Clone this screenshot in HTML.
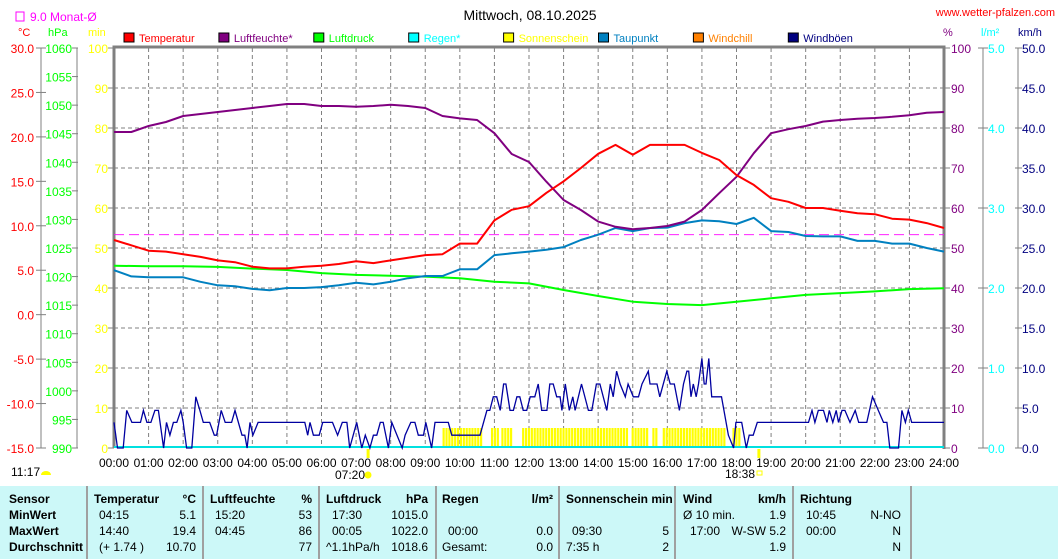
<!DOCTYPE html>
<html><head><meta charset="utf-8"><style>
body{margin:0;background:#fff;width:1058px;height:559px;overflow:hidden;font-family:"Liberation Sans",sans-serif}
svg{display:block}
text{font-family:"Liberation Sans",sans-serif;font-size:12px}
.b{font-weight:bold}
</style></head><body>
<svg id="chart" width="1058" height="559">
<rect x="0" y="486" width="1058" height="73" fill="#ccf8f8"/>
<g id="grid"></g>
<g id="axes"></g>
<g id="series"></g>
<g id="hdr">
<text x="530" y="20" text-anchor="middle" font-size="14" style="font-size:14px">Mittwoch, 08.10.2025</text>
<text x="1055" y="16" text-anchor="end" fill="#ff0000" style="font-size:11px">www.wetter-pfalzen.com</text>
<rect x="16" y="12" width="8" height="9" fill="none" stroke="#ff00ff"/>
<text x="30" y="21" fill="#ff00ff">9.0 Monat-Ø</text>
<text x="18" y="36" fill="#ff0000" style="font-size:11px">°C</text>
<text x="48" y="36" fill="#00ff00" style="font-size:11px">hPa</text>
<text x="88" y="36" fill="#ffff00" style="font-size:11px">min</text>
<text x="943" y="36" fill="#800080" style="font-size:11px">%</text>
<text x="981" y="36" fill="#00ffff" style="font-size:11px">l/m²</text>
<text x="1018" y="36" fill="#000080" style="font-size:11px">km/h</text>
</g>
<g id="legend"></g>
<g id="table"></g>
</svg>
<script>
// ---- data ----
const tempHalfHour = [8.4,7.8,7.2,7.1,6.8,6.5,6.1,5.9,5.4,5.2,5.2,5.4,5.5,5.7,6.0,5.8,6.1,6.4,6.7,6.8,8.0,8.0,10.6,11.8,12.2,13.7,15.0,16.5,18.1,19.1,18.0,19.1,19.1,19.1,18.2,17.4,15.7,14.6,13.1,12.7,12.0,12.0,11.7,11.4,11.3,10.8,10.7,10.3,9.75];
const humHalfHour = [79,79,80.5,81.5,83,83.5,84,84.5,85,85.5,86,86,85.5,85.5,85.3,85.5,85.8,85.5,85,83,82.4,82,78.7,73.5,71.5,66.6,62,59.5,56.6,55.3,54.7,55,55.5,56.6,59.5,63.7,67.8,73.7,78.7,79.7,80.5,81.6,82,82.3,82.5,82.8,83.2,83.8,84];
const dewHalfHour = [5.0,4.3,4.2,4.2,4.2,3.7,3.3,3.2,2.9,2.75,3.0,3.0,3.1,3.3,3.6,3.4,3.7,4.1,4.35,4.35,5.1,5.1,6.7,6.9,7.1,7.3,7.6,8.4,9.0,9.75,9.4,9.75,9.8,10.3,10.6,10.5,10.2,10.9,9.4,9.3,8.85,8.8,8.8,8.3,8.3,8.0,8.0,7.5,7.1];
const pressHourly = [1021.9,1021.8,1021.8,1021.7,1021.4,1021.15,1020.6,1020.3,1020.15,1020.0,1019.7,1019.1,1018.8,1017.65,1016.6,1015.6,1015.2,1015.0,1015.6,1016.2,1016.8,1017.1,1017.4,1017.8,1017.95];
const windMinutes = [0,6,16,22,31,46,51,57,64,71,77,86,91,97,103,109,116,120,126,135,142,149,155,166,174,178,186,193,204,210,222,227,231,236,241,250,331,336,340,346,356,362,379,388,396,404,409,421,430,436,444,450,456,462,467,476,482,491,500,505,515,522,528,537,541,551,557,580,586,635,647,652,658,664,670,676,680,687,693,699,704,710,716,722,730,736,742,751,756,762,768,774,777,783,790,796,800,811,823,829,837,843,855,861,866,872,878,887,892,901,910,916,927,930,942,947,959,965,972,981,988,994,997,1001,1005,1010,1014,1020,1024,1027,1032,1037,1054,1066,1075,1079,1089,1097,1102,1109,1116,1205,1211,1216,1222,1231,1237,1241,1247,1253,1257,1263,1268,1277,1286,1292,1306,1316,1326,1335,1341,1346,1361,1367,1373,1378,1384,1440];
const windValues = [3.2,0,0,4.7,3.2,3.2,4.7,3.2,3.2,4.7,4.7,0,3.2,1.6,3.2,3.2,4.7,3.2,0,0,6.4,4.7,3.2,3.2,1.6,1.6,4.7,3.2,3.2,4.7,1.6,1.6,0,3.2,1.6,3.2,3.2,1.6,3.2,1.6,1.6,3.2,3.2,1.6,3.2,3.2,0,3.2,0,1.6,0,1.6,1.6,3.2,3.2,0,3.2,1.6,0,1.6,3.2,3.2,1.6,1.6,3.2,0,3.2,3.2,1.6,1.6,4.7,4.7,6.4,6.4,4.7,8,8,4.7,4.7,6.4,6.4,4.7,4.7,6.4,6.4,8,4.7,4.7,8,8,6.4,6.4,4.7,8,4.7,6.4,4.7,8,4.7,4.7,8,8,4.7,8,6.4,9.6,8,6.4,8,6.4,6.4,8,9.6,8,8,6.4,9.6,8,8,4.7,8,9.6,9.6,6.4,8,6.4,8,11.2,8,8,11.2,6.4,6.4,1.6,0,3.2,3.2,0,1.6,1.6,3.2,3.2,4.7,3.2,4.7,4.7,3.2,4.7,3.2,4.7,3.2,4.7,4.7,3.2,4.7,3.2,3.2,6.4,4.7,3.2,3.2,0,0,4.7,3.2,4.7,3.2,3.2];
const sunSegStart = [570,654,672,708,898,934,952,1073];
const sunSegEnd = [636,668,692,892,927,942,1062,1086];
const sunSegValue = [5,5,5,5,5,5,5,5];
const monthAvgTemp = 9.0;
const hourLabels = ["00:00","01:00","02:00","03:00","04:00","05:00","06:00","07:00","08:00","09:00","10:00","11:00","12:00","13:00","14:00","15:00","16:00","17:00","18:00","19:00","20:00","21:00","22:00","23:00","24:00"];
const tempTicks = ["30.0","25.0","20.0","15.0","10.0","5.0","0.0","-5.0","-10.0","-15.0"];
const pressTicks = ["1060","1055","1050","1045","1040","1035","1030","1025","1020","1015","1010","1005","1000","995","990"];
const pctTicks = ["100","90","80","70","60","50","40","30","20","10","0"];
const rainTicks = ["5.0","4.0","3.0","2.0","1.0","0.0"];
const windTicks = ["50.0","45.0","40.0","35.0","30.0","25.0","20.0","15.0","10.0","5.0","0.0"];
// ---- scales ----
const X0=114,X1=944,Y0=448,Y1=48;
const xH=h=>X0+(X1-X0)*h/24;
const yPct=v=>Y0-(Y0-Y1)*v/100;
const yT=t=>Y0-(Y0-Y1)*(t+15)/45;
const yP=p=>Y0-(Y0-Y1)*(p-990)/70;
const yW=w=>Y0-(Y0-Y1)*w/50;
const NS="http://www.w3.org/2000/svg";
function mk(tag,attrs,parent,txt){const e=document.createElementNS(NS,tag);for(const k in attrs)e.setAttribute(k,attrs[k]);if(txt!=null)e.textContent=txt;parent.appendChild(e);return e;}
const G=document.getElementById('grid'),A=document.getElementById('axes'),S=document.getElementById('series'),L=document.getElementById('legend'),T=document.getElementById('table');
// grid
for(let h=1;h<24;h++){const l=mk('line',{x1:xH(h),x2:xH(h),y1:Y1,y2:Y0,stroke:'#808080','stroke-dasharray':'4,3'},G);

}
for(let v=10;v<100;v+=10){const l=mk('line',{x1:X0,x2:X1,y1:yPct(v),y2:yPct(v),stroke:'#808080','stroke-dasharray':'4,3'},G);

}
// plot frame
let f=mk('path',{d:`M${X0},${Y0} V${Y1-1} H${X1} V${Y0+1}`,fill:'none',stroke:'#808080','stroke-width':3},A);


// left axes
mk('line',{x1:41,x2:41,y1:Y1,y2:Y0,stroke:'#808080'},A);
mk('line',{x1:77,x2:77,y1:Y1,y2:Y0,stroke:'#808080'},A);
tempTicks.forEach((t,i)=>{const y=Y1+i*(Y0-Y1)/(tempTicks.length-1);mk('line',{x1:36,x2:46,y1:y,y2:y,stroke:'#808080'},A);
const e=mk('text',{x:34,y:y+5,'text-anchor':'end',fill:'#ff0000'},A,t);

});
pressTicks.forEach((t,i)=>{const y=Y1+i*(Y0-Y1)/(pressTicks.length-1);mk('line',{x1:72,x2:78,y1:y,y2:y,stroke:'#808080'},A);
const e=mk('text',{x:72,y:y+5,'text-anchor':'end',fill:'#00ff00'},A,t);

});
pctTicks.forEach((t,i)=>{const y=Y1+i*(Y0-Y1)/(pctTicks.length-1);mk('line',{x1:108,x2:114,y1:y,y2:y,stroke:'#808080'},A);
const e=mk('text',{x:108,y:y+5,'text-anchor':'end',fill:'#ffff00'},A,t);


mk('line',{x1:944,x2:950,y1:y,y2:y,stroke:'#808080'},A);
const r=mk('text',{x:951,y:y+5,fill:'#800080'},A,t);

});
mk('line',{x1:983,x2:983,y1:Y1,y2:Y0,stroke:'#808080'},A);
rainTicks.forEach((t,i)=>{const y=Y1+i*(Y0-Y1)/(rainTicks.length-1);mk('line',{x1:978,x2:988,y1:y,y2:y,stroke:'#808080'},A);
const e=mk('text',{x:988,y:y+5,fill:'#00ffff'},A,t);

});
mk('line',{x1:1018,x2:1018,y1:Y1,y2:Y0,stroke:'#808080'},A);
windTicks.forEach((t,i)=>{const y=Y1+i*(Y0-Y1)/(windTicks.length-1);mk('line',{x1:1015,x2:1022,y1:y,y2:y,stroke:'#808080'},A);
const e=mk('text',{x:1022,y:y+5,fill:'#000080'},A,t);

});
hourLabels.forEach((t,i)=>{const e=mk('text',{x:xH(i),y:467,'text-anchor':'middle'},A,t);

});
// sunshine bars
sunSegStart.forEach((s,i)=>{for(let m=s;m<sunSegEnd[i];m+=5){const x=xH(m/60);const b=mk('rect',{x:x,y:yPct(sunSegValue[i]),width:2.2,height:Y0-yPct(sunSegValue[i]),fill:'#ffff00'},S);

}});
// rain line
let rl=mk('line',{x1:X0,x2:X1,y1:447,y2:447,stroke:'#00e0e0','stroke-width':2},S);


// monthly average
let ma=mk('line',{x1:X0,x2:X1,y1:yT(monthAvgTemp),y2:yT(monthAvgTemp),stroke:'#ff00ff','stroke-dasharray':'10,5','stroke-width':0.8},S);


function poly(vals,stepH,yf,col,w,name){const pts=vals.map((v,i)=>xH(i*stepH).toFixed(1)+','+yf(v).toFixed(1)).join(' ');
const p=mk('polyline',{points:pts,fill:'none',stroke:col,'stroke-width':w,'stroke-linejoin':'round'},S);

}
poly(pressHourly,1,yP,'#00ff00',2,'pressure-series');
poly(dewHalfHour,0.5,yT,'#0080c0',2,'dewpoint-series');
poly(humHalfHour,0.5,yPct,'#800080',2,'humidity-series');
poly(tempHalfHour,0.5,yT,'#ff0000',2,'temperature-series');
const wp=windMinutes.map((m,i)=>xH(m/60).toFixed(1)+','+yW(windValues[i]).toFixed(1)).join(' ');
let wl=mk('polyline',{points:wp,fill:'none',stroke:'#0000a0','stroke-width':1.3},S);


// sunrise / sunset
mk('rect',{x:xH(7+20/60)-1,y:449,width:3,height:9,fill:'#ffff00'},S);
mk('rect',{x:xH(18+38/60)-1,y:449,width:3,height:9,fill:'#ffff00'},S);
let sr=mk('text',{x:335,y:479},A,'07:20');
mk('circle',{cx:368,cy:475,r:3.5,fill:'#ffff00'},A);
let ss=mk('text',{x:725,y:478},A,'18:38');
mk('rect',{x:757,y:471,width:5,height:4,fill:'none',stroke:'#ffff00'},A);
let dl=mk('text',{x:11,y:476},A,'11:17');
mk('path',{d:'M41,475 a5,4 0 0 1 10,0 z',fill:'#ffff00'},A);
// legend
const legNames=["Temperatur","Luftfeuchte*","Luftdruck","Regen*","Sonnenschein","Taupunkt","Windchill","Windböen"];
const legCols=["#ff0000","#800080","#00ff00","#00ffff","#ffff00","#0080c0","#ff8000","#000080"];
legNames.forEach((n,i)=>{const x=124+i*94.9;mk('rect',{x:x,y:33,width:10,height:9,fill:legCols[i],stroke:'#000'},L);
const e=mk('text',{x:x+15,y:42,fill:legCols[i],style:'font-size:11px'},L,n);

});
// table
[87,203,319,436,559,675,793,911].forEach(x=>mk('line',{x1:x,x2:x,y1:486,y2:559,stroke:'#a0a0a0','stroke-width':2},T));
const rows=[499,515,531,547];
function tx(x,y,s,bold,end){const e=mk('text',{x:x,y:y+4,'text-anchor':end?'end':'start','font-weight':bold?'bold':'normal'},T,s);

}
tx(9,rows[0],'Sensor',1);tx(9,rows[1],'MinWert',1);tx(9,rows[2],'MaxWert',1);tx(9,rows[3],'Durchschnitt',1);
tx(94,rows[0],'Temperatur',1);tx(196,rows[0],'°C',1,1);tx(99,rows[1],'04:15');tx(196,rows[1],'5.1',0,1);tx(99,rows[2],'14:40');tx(196,rows[2],'19.4',0,1);tx(99,rows[3],'(+ 1.74 )');tx(196,rows[3],'10.70',0,1);
tx(210,rows[0],'Luftfeuchte',1);tx(312,rows[0],'%',1,1);tx(215,rows[1],'15:20');tx(312,rows[1],'53',0,1);tx(215,rows[2],'04:45');tx(312,rows[2],'86',0,1);tx(312,rows[3],'77',0,1);
tx(326,rows[0],'Luftdruck',1);tx(428,rows[0],'hPa',1,1);tx(332,rows[1],'17:30');tx(428,rows[1],'1015.0',0,1);tx(332,rows[2],'00:05');tx(428,rows[2],'1022.0',0,1);tx(326,rows[3],'^1.1hPa/h');tx(428,rows[3],'1018.6',0,1);
tx(442,rows[0],'Regen',1);tx(553,rows[0],'l/m²',1,1);tx(448,rows[2],'00:00');tx(553,rows[2],'0.0',0,1);tx(442,rows[3],'Gesamt:');tx(553,rows[3],'0.0',0,1);
tx(566,rows[0],'Sonnenschein min',1);tx(572,rows[2],'09:30');tx(669,rows[2],'5',0,1);tx(566,rows[3],'7:35 h');tx(669,rows[3],'2',0,1);
tx(683,rows[0],'Wind',1);tx(786,rows[0],'km/h',1,1);tx(683,rows[1],'Ø 10 min.');tx(786,rows[1],'1.9',0,1);tx(690,rows[2],'17:00');tx(786,rows[2],'W-SW 5.2',0,1);tx(786,rows[3],'1.9',0,1);
tx(800,rows[0],'Richtung',1);tx(806,rows[1],'10:45');tx(901,rows[1],'N-NO',0,1);tx(806,rows[2],'00:00');tx(901,rows[2],'N',0,1);tx(901,rows[3],'N',0,1);
</script>
</body></html>
